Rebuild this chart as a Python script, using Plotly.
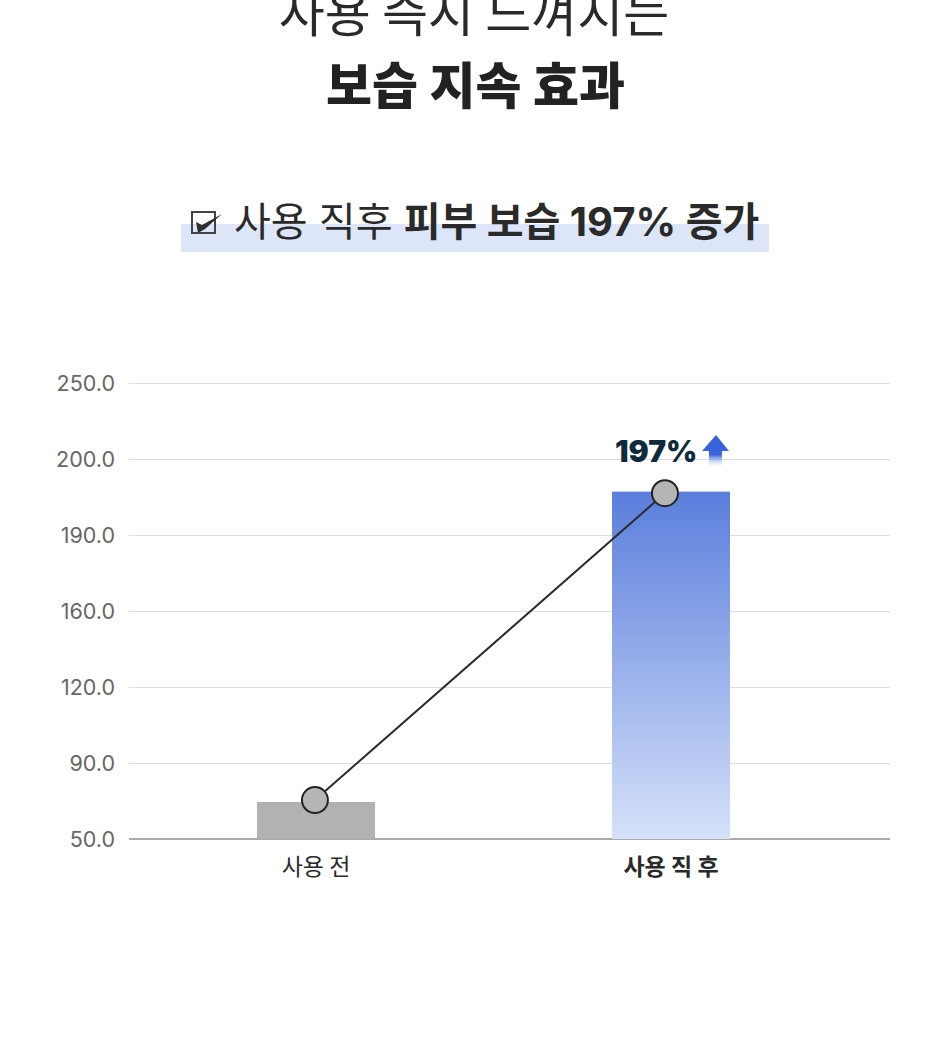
import numpy as np
import plotly.graph_objects as go

# chart data
categories = ["사용 전", "<b>사용 직 후</b>"]
bar_values = [69.5, 195.7]
line_values = [70.5, 195.5]
line_x_shift = [-0.003, -0.017]  # the dots sit slightly left of the bar centres

# the axis is not linear: ticks are evenly spaced whatever their value
tick_values = [50, 90, 120, 160, 190, 200, 250]
tick_labels = ["50.0", "90.0", "120.0", "160.0", "190.0", "200.0", "250.0"]

gain_label = "197%"
title_top = "사용 즉시 느껴지는"
title_bold = "보습 지속 효과"
subtitle = "사용 직후 <b>피부 보습 197% 증가</b>"

W, H = 950, 1049
FONT = "Inter, 'Noto Sans CJK KR', sans-serif"
KR = "'Noto Sans CJK KR', sans-serif"
BAR_W = 118 / 355
SLOTS = len(tick_values) - 1
PAD = 0.03  # keeps the first and last grid line off the axis edges


def to_axis(vals):
	# map values on to the evenly spaced tick slots
	return np.interp(vals, tick_values, range(len(tick_values))).tolist()


def px_x(x):
	return x / W


def px_y(y):
	return 1 - y / H


slot_px = (839 - 383) / SLOTS
plot_top = 383 - PAD * slot_px
plot_bottom = 839 + PAD * slot_px

bar_y = to_axis(bar_values)
line_y = to_axis(line_values)
x_pos = list(range(len(categories)))
line_x = [p + s for p, s in zip(x_pos, line_x_shift)]

fig = go.Figure()

fig.add_trace(go.Bar(
	x=x_pos,
	y=bar_y,
	width=BAR_W,
	marker=dict(color=["#b2b2b2", "#8ea6e8"], line_width=0),
	hoverinfo="skip",
))

# gradient over the second bar
left = x_pos[1] - BAR_W / 2
right = x_pos[1] + BAR_W / 2
fig.add_trace(go.Scatter(
	x=[left, left, right, right, left],
	y=[0, bar_y[1], bar_y[1], 0, 0],
	mode="lines",
	line=dict(width=0),
	fill="toself",
	fillgradient=dict(
		type="vertical",
		colorscale=[[0, "#d5e1f9"], [1, "#5a7edc"]],
	),
	hoverinfo="skip",
))

fig.add_trace(go.Scatter(
	x=line_x,
	y=line_y,
	mode="lines+markers",
	line=dict(color="#2b2b2b", width=2),
	marker=dict(size=26, color="#b5b5b5", line=dict(color="#222222", width=2)),
	hoverinfo="skip",
))

# gain arrow, x2/y2 count in page pixels
fig.add_trace(go.Scatter(
	x=[716, 729, 722, 722, 709, 709, 702, 716],
	y=[435, 451, 451, 468, 468, 451, 451, 435],
	xaxis="x2",
	yaxis="y2",
	mode="lines",
	line=dict(width=0),
	fill="toself",
	fillgradient=dict(
		type="vertical",
		start=468,
		stop=435,
		colorscale=[[0, "rgba(255,255,255,0)"], [0.4, "#3a66da"], [1, "#3560d8"]],
	),
	hoverinfo="skip",
))

# the top line runs off the page, annotations would get pushed back inside
fig.add_trace(go.Scatter(
	x=[474],
	y=[19],
	xaxis="x2",
	yaxis="y2",
	mode="text",
	text=[title_top],
	textposition="middle center",
	textfont=dict(size=50, color="#2a2a2a", family=KR, weight=400),
	cliponaxis=False,
	hoverinfo="skip",
))

shapes = [
	# highlight behind the subtitle
	dict(type="rect", xref="paper", yref="paper", layer="below",
		x0=px_x(181), x1=px_x(769), y0=px_y(252), y1=px_y(224),
		fillcolor="#dde5f9", line_width=0),
	# check box
	dict(type="rect", xref="paper", yref="paper",
		x0=px_x(192), x1=px_x(215), y0=px_y(233), y1=px_y(212),
		line=dict(color="#444444", width=2), fillcolor="rgba(0,0,0,0)"),
]
check = [(196, 222), (202, 225), (222, 214), (205, 229), (198, 233)]
check_path = "M " + " L ".join(f"{px_x(a):.5f},{px_y(b):.5f}" for a, b in check) + " Z"
shapes.append(dict(type="path", xref="paper", yref="paper", path=check_path,
	fillcolor="#2f2f2f", line_width=0))

annotations = [
	dict(text=title_bold, x=0.5, y=px_y(82), font=dict(size=50, color="#222222", family=KR, weight=900)),
	dict(text=subtitle, x=px_x(496), y=px_y(222), font=dict(size=40, color="#2a2a2a", family=FONT)),
	dict(text=gain_label, x=px_x(656), y=px_y(451), font=dict(size=30, color="#0d2b3a", family=FONT, weight=900)),
]
for a in annotations:
	a.update(xref="paper", yref="paper", showarrow=False, xanchor="center", yanchor="middle")

fig.update_layout(
	width=W,
	height=H,
	margin=dict(l=0, r=0, t=0, b=0, autoexpand=False),
	paper_bgcolor="white",
	plot_bgcolor="rgba(0,0,0,0)",
	showlegend=False,
	shapes=shapes,
	annotations=annotations,
	font=dict(family=FONT),
	xaxis=dict(
		domain=[px_x(129), px_x(890)],
		range=[-187 / 355, 574 / 355],
		tickmode="array",
		tickvals=x_pos,
		ticktext=categories,
		tickfont=dict(size=23, color="#2a2a2a", family=KR),
		ticks="",
		ticklabelstandoff=10,
		showgrid=False,
		zeroline=False,
		showline=False,
		fixedrange=True,
	),
	yaxis=dict(
		domain=[px_y(plot_bottom), px_y(plot_top)],
		range=[-PAD, SLOTS + PAD],
		tickmode="array",
		tickvals=list(range(len(tick_values))),
		ticktext=tick_labels,
		tickfont=dict(size=21.5, color="#666666", family=FONT),
		ticks="",
		ticklabelstandoff=13,
		showgrid=True,
		gridcolor="#dedede",
		gridwidth=1.4,
		zeroline=True,
		zerolinecolor="#aaaaaa",
		zerolinewidth=2,
		showline=False,
		fixedrange=True,
	),
	# full page axes in pixels, for the arrow and the top line
	xaxis2=dict(domain=[0, 1], range=[0, W], visible=False, anchor="y2", fixedrange=True),
	yaxis2=dict(domain=[0, 1], range=[H, 0], visible=False, anchor="x2", fixedrange=True),
)

# drop the default body margin so the page lines up with the window
fig.write_html(
	"out.html",
	config=dict(displayModeBar=False),
	post_script="document.body.style.margin='0';document.body.style.overflow='hidden';",
)
